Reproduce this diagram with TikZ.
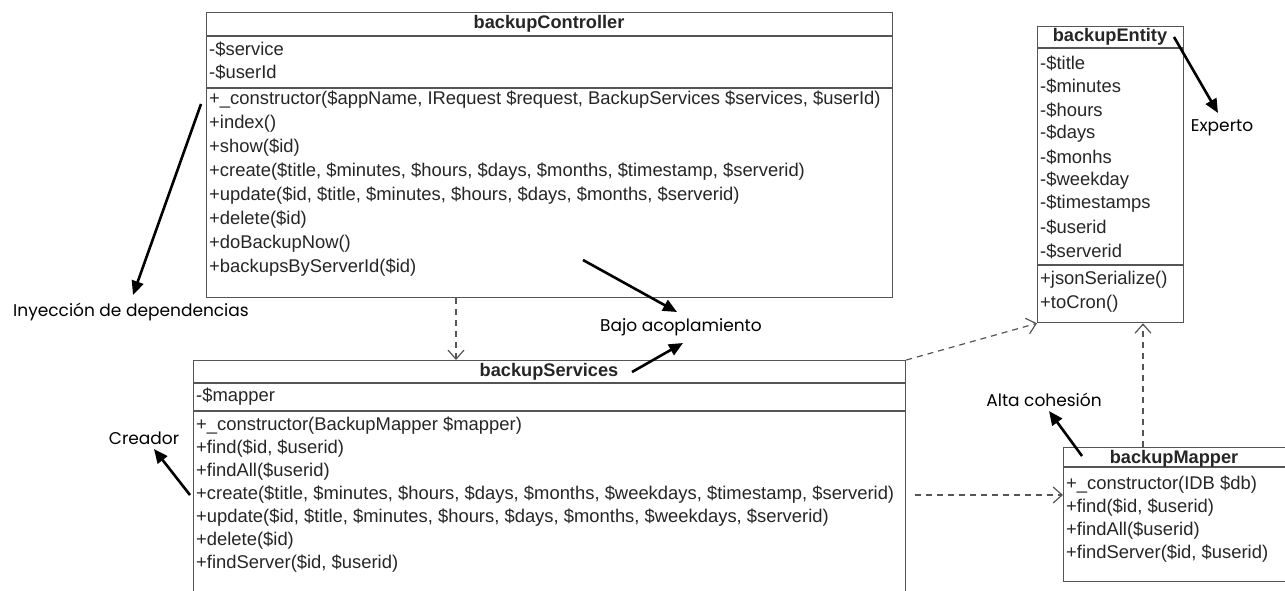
\documentclass[tikz,border=0pt]{standalone}
\usepackage{fontspec}
\setmainfont{Liberation Sans}
\newfontfamily\notefont{Poppins}
\usetikzlibrary{arrows.meta}

\definecolor{boxline}{HTML}{555555}
\definecolor{umltext}{HTML}{262626}

\begin{document}
\begin{tikzpicture}[x=1pt,y=-1pt,
  classbox/.style={draw=boxline, line width=1.3pt, fill=white, inner sep=0pt, anchor=north west},
  divider/.style={draw=boxline, line width=1.3pt},
  member/.style={anchor=west, inner sep=0pt, text=umltext, font=\fontsize{18.4}{20}\selectfont},
  classname/.style={inner sep=0pt, text=umltext, font=\fontsize{18.2}{20}\selectfont\bfseries},
  note/.style={inner sep=0pt, font=\notefont\fontsize{17}{19}\selectfont},
  pointer/.style={line width=2.6pt, -{Triangle[length=14pt,width=12pt]}},
  depend/.style={draw=boxline, line width=1.2pt, dash pattern=on 6pt off 5pt,
                 -{Straight Barb[length=9pt,width=16pt]}},
]
\useasboundingbox (0,0) rectangle (1285,590);
\begin{scope}
\clip (0,0) rectangle (1285,590);
\fill[white] (0,0) rectangle (1285,590);

% ---------------- backupController ----------------
\node[classbox, minimum width=686pt, minimum height=285pt] (ctrl) at (206,12) {};
\draw[divider] ([yshift=-24pt]ctrl.north west) -- ([yshift=-24pt]ctrl.north east);
\draw[divider] ([yshift=-76pt]ctrl.north west) -- ([yshift=-76pt]ctrl.north east);
\node[classname] (ctrlname) at (549,24) {backupController};
\foreach \t [count=\i] in {{-\$service},{-\$userId}}
  \node[member] (ca\i) at (209,{49+(\i-1)*23}) {\t};
\foreach \t [count=\i] in {
  {+\_constructor(\$appName, IRequest \$request, BackupServices \$services, \$userId)},
  {+index()},
  {+show(\$id)},
  {+create(\$title, \$minutes, \$hours, \$days, \$months, \$timestamp, \$serverid)},
  {+update(\$id, \$title, \$minutes, \$hours, \$days, \$months, \$serverid)},
  {+delete(\$id)},
  {+doBackupNow()},
  {+backupsByServerId(\$id)}}
  \node[member] (cm\i) at (209,{100+(\i-1)*24}) {\t};

% ---------------- backupServices ----------------
\node[classbox, minimum width=712pt, minimum height=250pt] (serv) at (193,360) {};
\draw[divider] ([yshift=-23pt]serv.north west) -- ([yshift=-23pt]serv.north east);
\draw[divider] ([yshift=-51pt]serv.north west) -- ([yshift=-51pt]serv.north east);
\node[classname] (servname) at (549,372) {backupServices};
\node[member] (sa1) at (196,397) {-\$mapper};
\foreach \t [count=\i] in {
  {+\_constructor(BackupMapper \$mapper)},
  {+find(\$id, \$userid)},
  {+findAll(\$userid)},
  {+create(\$title, \$minutes, \$hours, \$days, \$months, \$weekdays, \$timestamp, \$serverid)},
  {+update(\$id, \$title, \$minutes, \$hours, \$days, \$months, \$weekdays, \$serverid)},
  {+delete(\$id)},
  {+findServer(\$id, \$userid)}}
  \node[member] (sm\i) at (196,{426+(\i-1)*23}) {\t};

% ---------------- backupEntity ----------------
\node[classbox, minimum width=146pt, minimum height=296pt] (ent) at (1037,26) {};
\draw[divider] ([yshift=-22pt]ent.north west) -- ([yshift=-22pt]ent.north east);
\draw[divider] ([yshift=-239pt]ent.north west) -- ([yshift=-239pt]ent.north east);
\node[classname] (entname) at (1110,37) {backupEntity};
\foreach \t [count=\i] in {{-\$title},{-\$minutes},{-\$hours},{-\$days},{-\$monhs},
  {-\$weekday},{-\$timestamps},{-\$userid},{-\$serverid}}
  \node[member] (ea\i) at (1040,{63+(\i-1)*23.5}) {\t};
\foreach \t [count=\i] in {{+jsonSerialize()},{+toCron()}}
  \node[member] (em\i) at (1040,{280+(\i-1)*23.5}) {\t};

% ---------------- backupMapper ----------------
\node[classbox, minimum width=230pt, minimum height=134pt] (map) at (1063,447) {};
\draw[divider] ([yshift=-20pt]map.north west) -- ([yshift=-20pt]map.north east);
\node[classname] (mapname) at (1174,459) {backupMapper};
\foreach \t [count=\i] in {{+\_constructor(IDB \$db)},{+find(\$id, \$userid)},
  {+findAll(\$userid)},{+findServer(\$id, \$userid)}}
  \node[member] (mm\i) at (1066,{485+(\i-1)*22.7}) {\t};

% ---------------- dependencies ----------------
\coordinate (csx) at (456,0);
\coordinate (mex) at (1143,0);
\draw[depend] (ctrl.south -| csx) -- (serv.north -| csx);
\draw[depend] (serv.north east) -- (ent.south west);
\path (serv.east |- sm4) coordinate (smy);
\draw[depend] ([xshift=9pt]smy) -- (map.west |- smy);
\draw[depend] (map.north -| mex) -- (ent.south -| mex);

% ---------------- GRASP notes ----------------
\node[note] (inj) at (131,312) {Inyección de dependencias};
\node[note] (bajo) at (681,327) {Bajo acoplamiento};
\node[note] (exp) at (1222,128) {Experto};
\node[note] (alta) at (1044,400) {Alta cohesión};
\node[note] (crea) at (144,438) {Creador};

\coordinate (injA) at (201,104);  \coordinate (injB) at (133,295);
\coordinate (bajoA) at (583,260); \coordinate (bajoB) at (677,312);
\coordinate (bajoC) at (632,372); \coordinate (bajoD) at (683,343);
\coordinate (expA) at (1174,37);  \coordinate (expB) at (1218,113);
\coordinate (altaA) at (1082,456);\coordinate (altaB) at (1049,411);
\coordinate (creaA) at (190,495); \coordinate (creaB) at (154,449);

\draw[pointer] (injA) -- (injB);
\draw[pointer] (bajoA) -- (bajoB);
\draw[pointer] (bajoC) -- (bajoD);
\draw[pointer] (expA) -- (expB);
\draw[pointer] (altaA) -- (altaB);
\draw[pointer] (creaA) -- (creaB);
\end{scope}
\end{tikzpicture}
\end{document}
